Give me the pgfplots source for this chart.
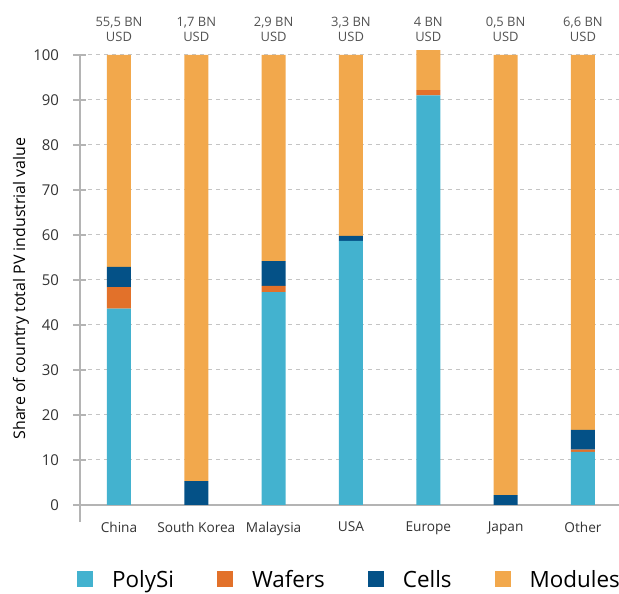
\documentclass[border=0pt]{standalone}
\usepackage{pgfplots}
\pgfplotsset{compat=1.18}
\usepackage{fontspec}
\setmainfont{Open Sans}
\definecolor{poly}{HTML}{43B2CF}
\definecolor{waf}{HTML}{E2712A}
\definecolor{cell}{HTML}{045187}
\definecolor{modu}{HTML}{F2A84C}
\definecolor{txt}{HTML}{333333}
\definecolor{gridc}{HTML}{C4C4C4}
\definecolor{axc}{HTML}{B4B4B4}
\tikzset{toplab/.style={anchor=south, align=center, text=black!68, font=\fontsize{13}{15}\selectfont, yshift=10bp}}
\begin{document}
\begin{tikzpicture}
\begin{axis}[
  name=ax,
  scale only axis, width=539bp, height=467bp,
  ymin=-3.8, ymax=100, xmin=-0.504, xmax=6.466,
  ybar stacked, bar width=24bp,
  xtick={0,1,2,3,4,5,6},
  xticklabels={China,South Korea,Malaysia,USA,Europe,Japan,Other},
  ytick={10,20,...,100},
  extra y ticks={0},
  extra y tick style={major grid style={solid, draw=axc, line width=1.5pt}},
  tick align=outside,
  major tick length=13bp,
  ytick style={draw=axc, line width=1.5pt},
  xtick style={draw=none},
  ymajorgrids=true,
  major grid style={dash pattern=on 4bp off 4bp, draw=gridc, line width=1pt},
  axis x line=bottom, axis y line=left,
  x axis line style={draw=none},
  y axis line style={-, draw=axc, line width=1.5pt},
  /pgf/number format/assume math mode=true,
  yticklabel style={font=\fontsize{15}{17}\selectfont, text=txt, xshift=-11bp},
  xticklabel style={font=\fontsize{13.7}{15}\selectfont, text=txt, yshift=10bp},
  ylabel={Share of country total PV industrial value},
  ylabel style={at={(axis description cs:0,0.5)}, anchor=center, rotate=0, yshift=59bp, font=\fontsize{16}{18}\selectfont, text=black},
  legend style={at={(0.5,-0.094)}, anchor=north, draw=none, legend columns=4,
    font=\fontsize{22.5}{26}\selectfont,
    /tikz/every odd column/.append style={column sep=17bp},
    /tikz/every even column/.append style={column sep=41bp}},
  legend image code/.code={\fill[#1] (0bp,-8bp) rectangle (16bp,8bp);},
  clip=false,
]
\addplot[fill=poly, draw=none] coordinates {(0,43.6) (1,0) (2,47.3) (3,58.7) (4,91.0) (5,0) (6,11.8)};
\addlegendentry{PolySi}
\addplot[fill=waf, draw=none] coordinates {(0,4.8) (1,0) (2,1.4) (3,0) (4,1.2) (5,0) (6,0.5)};
\addlegendentry{Wafers}
\addplot[fill=cell, draw=none] coordinates {(0,4.5) (1,5.3) (2,5.5) (3,1.1) (4,0) (5,2.2) (6,4.4)};
\addlegendentry{Cells}
\addplot[fill=modu, draw=none] coordinates {(0,47.1) (1,94.7) (2,45.8) (3,40.2) (4,8.9) (5,97.8) (6,83.3)};
\addlegendentry{Modules}
\node[toplab] at (axis cs:0,100) {55,5 BN\\USD};
\node[toplab] at (axis cs:1,100) {1,7 BN\\USD};
\node[toplab] at (axis cs:2,100) {2,9 BN\\USD};
\node[toplab] at (axis cs:3,100) {3,3 BN\\USD};
\node[toplab] at (axis cs:4,100) {4 BN\\USD};
\node[toplab] at (axis cs:5,100) {0,5 BN\\USD};
\node[toplab] at (axis cs:6,100) {6,6 BN\\USD};
\end{axis}
\pgfresetboundingbox
\path (ax.south west) ++(-80bp,-72bp) rectangle ++(619bp,594bp);
\end{tikzpicture}
\end{document}
